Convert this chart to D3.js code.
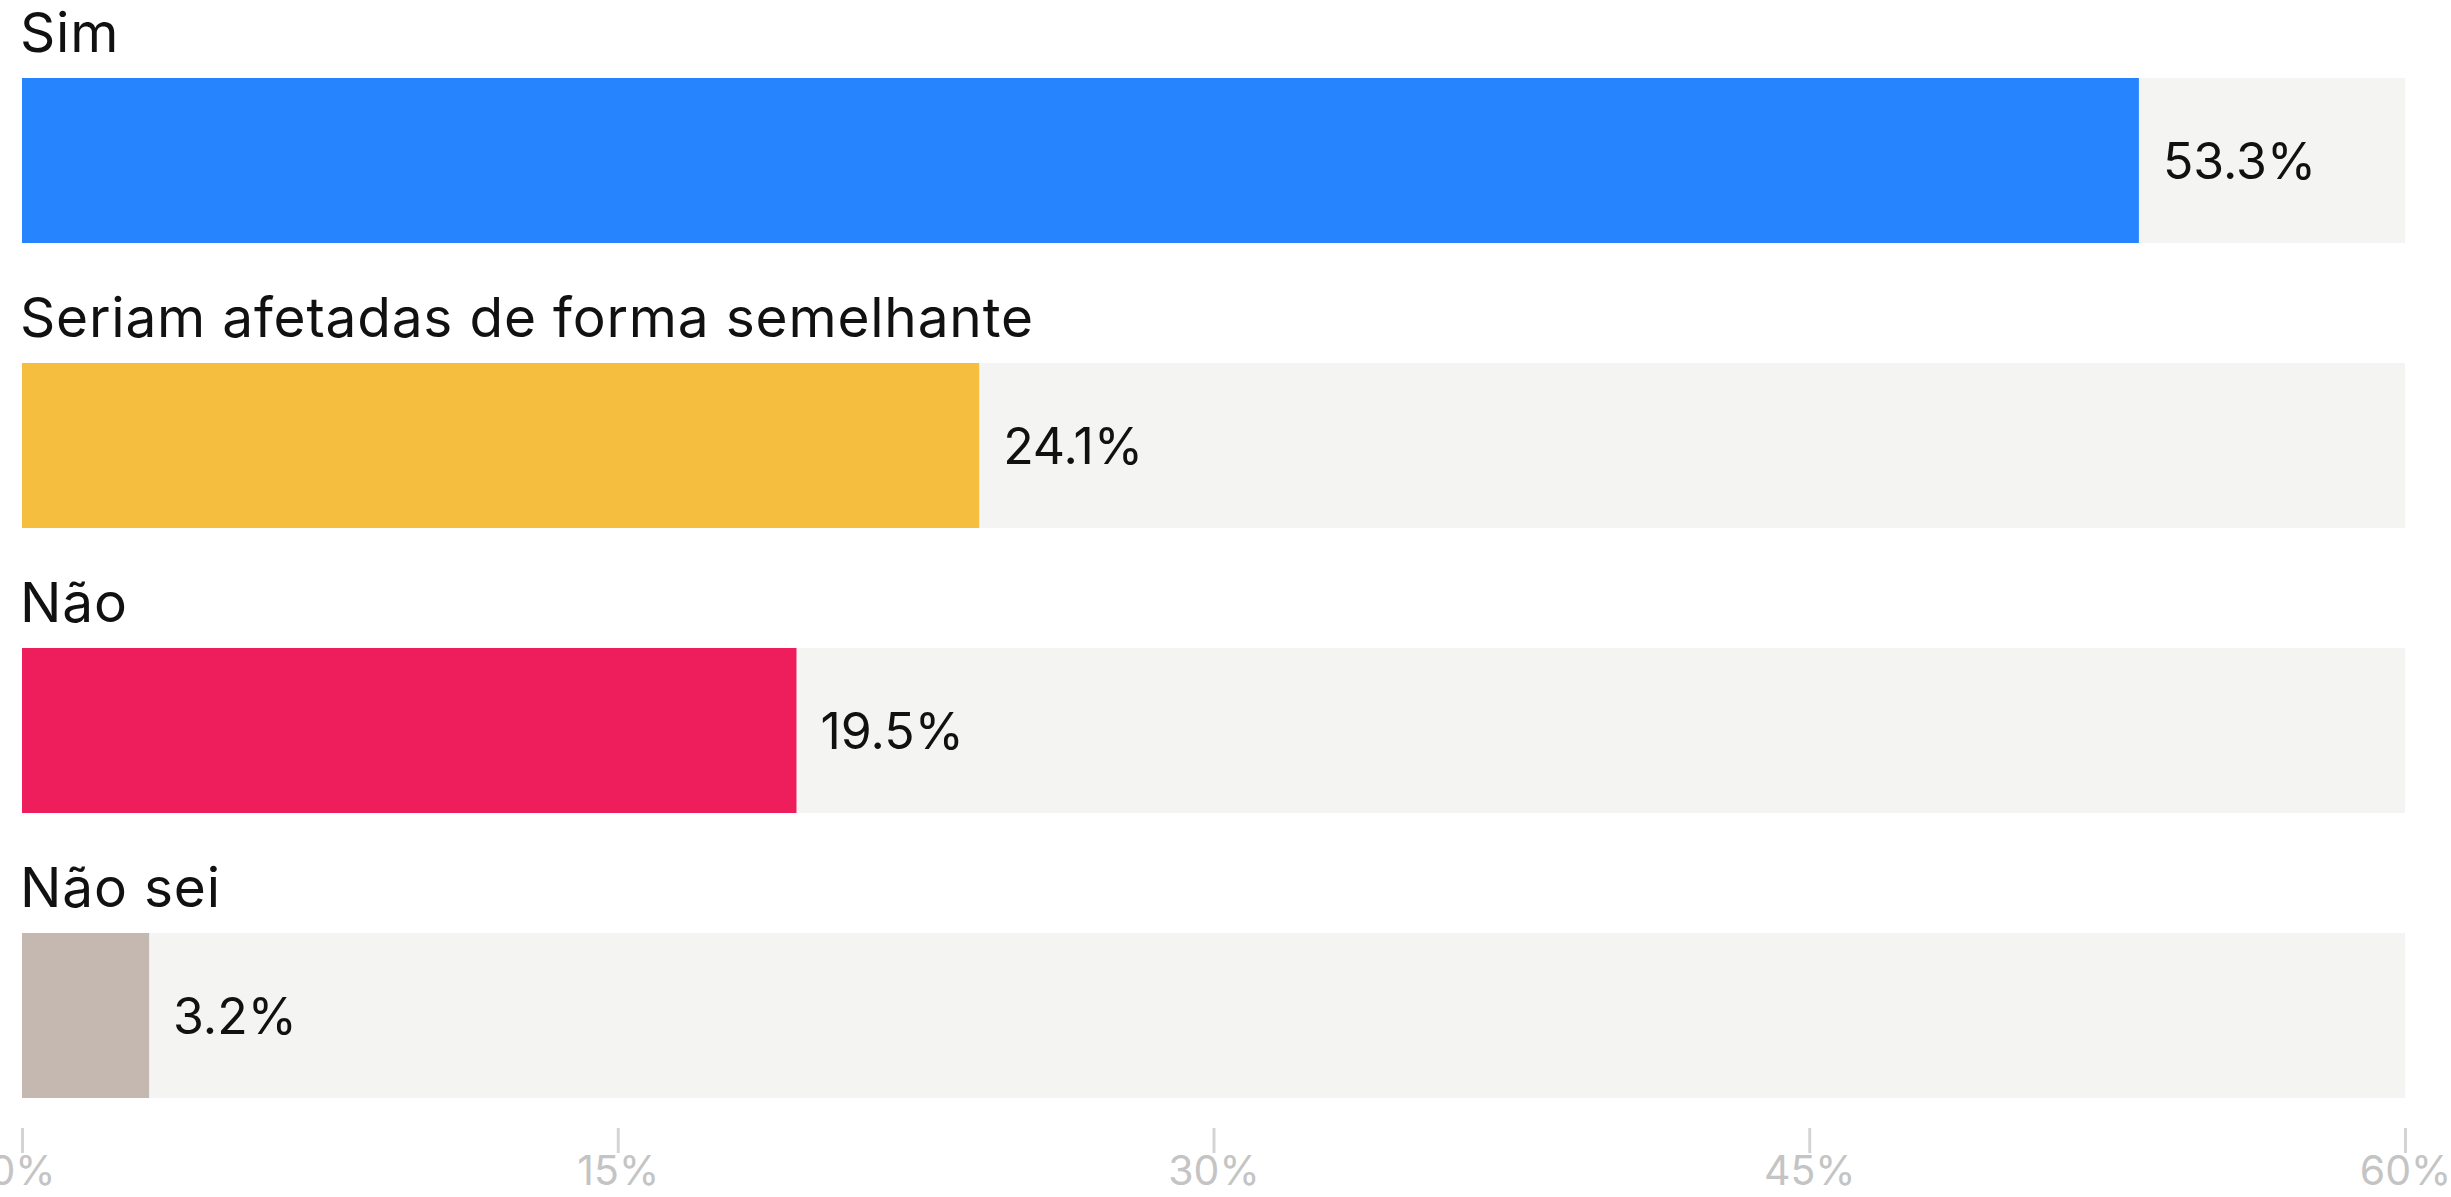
<!DOCTYPE html>
<html>
<head>
<meta charset="utf-8">
<script src="https://cdn.jsdelivr.net/npm/d3@7"></script>
<style>
  html, body { margin: 0; padding: 0; background: #fff; }
  svg { display: block; }
  text { font-family: Inter, "Open Sans", sans-serif; }
</style>
</head>
<body>
<div id="chart"></div>
<script>
    var categories = ['Sim', 'Seriam afetadas de forma semelhante', 'Não', 'Não sei'];
    var values = [53.3, 24.1, 19.5, 3.2];
    var colors = ['#2684ff', '#f6be3e', '#ee1d5c', '#c5b8b0'];
    var tickValues = [0, 15, 30, 45, 60];

    var width = 2451, height = 1197;

    var svg = d3.select('#chart').append('svg')
        .attr('width', width)
        .attr('height', height);

    var x = d3.scaleLinear().domain([0, 60]).range([22, 2405]);

    var y = d3.scaleBand()
        .domain(categories)
        .range([78, 1098])
        .paddingInner(120 / 285)
        .paddingOuter(0);

    var bh = y.bandwidth();

    var rows = svg.selectAll('g.row')
        .data(categories)
        .enter().append('g')
        .attr('class', 'row')
        .attr('transform', function(d) { return 'translate(0,' + y(d) + ')'; });

    // light track behind each bar
    rows.append('rect')
        .attr('x', x(0))
        .attr('y', 0)
        .attr('width', x(60) - x(0))
        .attr('height', bh)
        .attr('fill', '#f4f4f2');

    rows.append('rect')
        .attr('x', x(0))
        .attr('y', 0)
        .attr('width', function(d, i) { return x(values[i]) - x(0); })
        .attr('height', bh)
        .attr('fill', function(d, i) { return colors[i]; });

    rows.append('text')
        .attr('x', 20)
        .attr('y', -26)
        .attr('font-size', 55)
        .attr('letter-spacing', 0.8)
        .attr('fill', '#111')
        .text(function(d) { return d; });

    rows.append('text')
        .attr('x', function(d, i) { return x(values[i]) + 24; })
        .attr('y', bh / 2 + 18)
        .attr('font-size', 50)
        .attr('fill', '#111')
        .text(function(d, i) { return values[i].toFixed(1) + '%'; });

    var axis = d3.axisBottom(x)
        .tickValues(tickValues)
        .tickSize(25)
        .tickFormat(function(d) { return d + '%'; });

    var ax = svg.append('g')
        .attr('transform', 'translate(0,1128)')
        .call(axis);

    ax.select('.domain').remove();
    ax.selectAll('.tick line')
        .attr('stroke', '#d4d4d4')
        .attr('stroke-width', 3);
    ax.selectAll('.tick text')
        .attr('y', 57)
        .attr('dy', 0)
        .attr('font-size', 41)
        .attr('font-family', 'Inter, "Open Sans", sans-serif')
        .attr('fill', '#c4c4c4');
</script>
</body>
</html>
